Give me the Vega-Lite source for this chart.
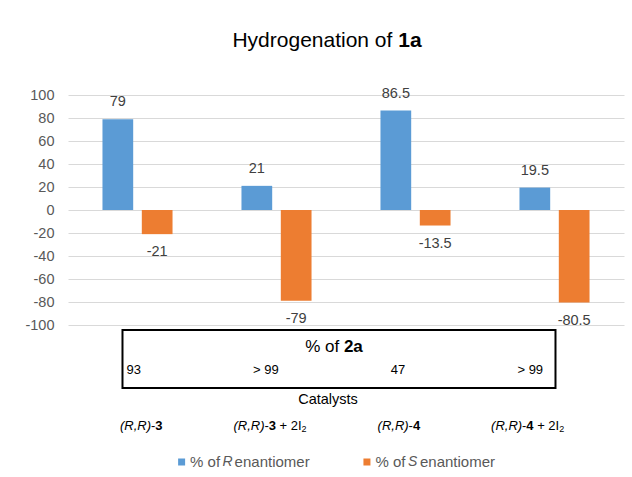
{
  "$schema": "https://vega.github.io/schema/vega-lite/v6.json",
  "padding": {"left": 24, "top": 6, "right": 9, "bottom": 0},
  "background": "white",
  "config": {"view": {"stroke": null}, "font": "Liberation Sans"},
  "spacing": 5,
  "center": true,
  "bounds": "flush",
  "resolve": {"scale": {"x": "independent", "y": "independent"}},
  "datasets": {
    "title": [{"lead": "Hydrogenation of", "compound": "1a"}],
    "bars": [
      {"catalyst": "(R,R)-3", "series": "R", "value": 79},
      {"catalyst": "(R,R)-3", "series": "S", "value": -21},
      {"catalyst": "(R,R)-3 + 2I2", "series": "R", "value": 21},
      {"catalyst": "(R,R)-3 + 2I2", "series": "S", "value": -79},
      {"catalyst": "(R,R)-4", "series": "R", "value": 86.5},
      {"catalyst": "(R,R)-4", "series": "S", "value": -13.5},
      {"catalyst": "(R,R)-4 + 2I2", "series": "R", "value": 19.5},
      {"catalyst": "(R,R)-4 + 2I2", "series": "S", "value": -80.5}
    ],
    "catalysts": [
      {"catalyst": "(R,R)-3", "cfg": "(R,R)", "dash": "-", "num": "3", "plus": "", "sub": "", "yield": "93"},
      {"catalyst": "(R,R)-3 + 2I2", "cfg": "(R,R)", "dash": "-", "num": "3", "plus": "+ 2I", "sub": "2", "yield": "> 99"},
      {"catalyst": "(R,R)-4", "cfg": "(R,R)", "dash": "-", "num": "4", "plus": "", "sub": "", "yield": "47"},
      {"catalyst": "(R,R)-4 + 2I2", "cfg": "(R,R)", "dash": "-", "num": "4", "plus": "+ 2I", "sub": "2", "yield": "> 99"}
    ],
    "box": [{"lead": "% of", "compound": "2a"}],
    "xtitle": [{"label": "Catalysts"}],
    "legend": [
      {"series": "R", "lead": "% of", "letter": "R", "rest": "enantiomer"},
      {"series": "S", "lead": "% of", "letter": "S", "rest": "enantiomer"}
    ]
  },
  "vconcat": [
    {
      "width": 556, "height": 84,
      "data": {"name": "title"},
      "layer": [
        {"mark": {"type": "text", "align": "right", "baseline": "middle", "dx": 46.4, "dy": -7, "fontSize": 21, "color": "#000000"},
         "encoding": {"text": {"field": "lead", "type": "nominal"}}},
        {"mark": {"type": "text", "align": "left", "baseline": "middle", "dx": 52.2, "dy": -7, "fontSize": 21, "fontWeight": "bold", "color": "#000000"},
         "encoding": {"text": {"field": "compound", "type": "nominal"}}}
      ]
    },
    {
      "width": 556, "height": 230,
      "data": {"name": "bars"},
      "encoding": {
        "x": {"field": "catalyst", "type": "nominal", "sort": null, "scale": {"paddingInner": 0.496, "paddingOuter": 0.248}, "axis": null},
        "xOffset": {"field": "series", "type": "nominal", "sort": null, "scale": {"paddingInner": 0.219, "paddingOuter": 0}},
        "y": {"field": "value", "type": "quantitative", "scale": {"domain": [-100, 100], "nice": false},
              "axis": {"values": [-100, -80, -60, -40, -20, 0, 20, 40, 60, 80, 100], "title": null, "domain": false, "ticks": false,
                       "labelPadding": 14, "labelFontSize": 14.5, "labelColor": "#595959", "labelExpr": "'' + datum.value",
                       "grid": true, "gridColor": "#d9d9d9", "gridWidth": 1}}
      },
      "layer": [
        {"mark": {"type": "bar"},
         "encoding": {"color": {"field": "series", "type": "nominal", "scale": {"domain": ["R", "S"], "range": ["#5b9bd5", "#ed7d31"]}, "legend": null}}},
        {"transform": [{"filter": "datum.series == 'R'"}],
         "mark": {"type": "text", "baseline": "middle", "dy": -17, "fontSize": 14.5, "color": "#404040"},
         "encoding": {"text": {"field": "value", "type": "nominal"}}},
        {"transform": [{"filter": "datum.series == 'S'"}],
         "mark": {"type": "text", "baseline": "middle", "dy": 18, "fontSize": 14.5, "color": "#404040"},
         "encoding": {"text": {"field": "value", "type": "nominal"}}}
      ]
    },
    {
      "width": 556, "height": 58,
      "resolve": {"scale": {"x": "independent"}},
      "layer": [
        {"data": {"name": "box"},
         "mark": {"type": "rect", "fill": null, "stroke": "#000000", "strokeWidth": 2},
         "encoding": {
           "x": {"datum": "(R,R)-3", "type": "nominal", "scale": {"type": "point", "domain": ["(R,R)-3", "(R,R)-3 + 2I2", "(R,R)-4", "(R,R)-4 + 2I2"], "padding": 0.4261, "align": 0.443}, "axis": null},
           "x2": {"datum": "(R,R)-4 + 2I2"}}},
        {"data": {"name": "catalysts"},
         "mark": {"type": "text", "align": "center", "baseline": "middle", "fontSize": 13, "dy": 11, "color": "#000000"},
         "encoding": {
           "x": {"field": "catalyst", "type": "nominal", "sort": null, "scale": {"type": "point", "padding": 0.603, "align": 0.412}, "axis": null},
           "text": {"field": "yield", "type": "nominal"}}},
        {"data": {"name": "box"},
         "mark": {"type": "text", "align": "right", "baseline": "middle", "fontSize": 17, "dx": -6.8, "dy": -12, "color": "#000000"},
         "encoding": {"text": {"field": "lead", "type": "nominal"}}},
        {"data": {"name": "box"},
         "mark": {"type": "text", "align": "left", "baseline": "middle", "fontSize": 17, "fontWeight": "bold", "dx": -2.1, "dy": -12, "color": "#000000"},
         "encoding": {"text": {"field": "compound", "type": "nominal"}}}
      ]
    },
    {
      "width": 556, "height": 49,
      "layer": [
        {"data": {"name": "xtitle"},
         "mark": {"type": "text", "baseline": "middle", "fontSize": 14.5, "dx": -18, "dy": -18, "color": "#000000"},
         "encoding": {"text": {"field": "label", "type": "nominal"}}},
        {"data": {"name": "catalysts"},
         "transform": [{"filter": "datum.plus == ''"}],
         "encoding": {"x": {"field": "catalyst", "type": "nominal", "scale": {"type": "point", "domain": ["(R,R)-3", "(R,R)-3 + 2I2", "(R,R)-4", "(R,R)-4 + 2I2"], "padding": 0.6584, "align": 0.432}, "axis": null}},
         "layer": [
           {"mark": {"type": "text", "align": "left", "baseline": "middle", "fontSize": 13, "fontStyle": "italic", "dx": -21.25, "dy": 8, "color": "#000000"},
            "encoding": {"text": {"field": "cfg", "type": "nominal"}}},
           {"mark": {"type": "text", "align": "left", "baseline": "middle", "fontSize": 13, "dx": 9.75, "dy": 8, "color": "#000000"},
            "encoding": {"text": {"field": "dash", "type": "nominal"}}},
           {"mark": {"type": "text", "align": "left", "baseline": "middle", "fontSize": 13, "fontWeight": "bold", "dx": 14.05, "dy": 8, "color": "#000000"},
            "encoding": {"text": {"field": "num", "type": "nominal"}}}
         ]},
        {"data": {"name": "catalysts"},
         "transform": [{"filter": "datum.plus != ''"}],
         "encoding": {"x": {"field": "catalyst", "type": "nominal", "scale": {"type": "point", "domain": ["(R,R)-3", "(R,R)-3 + 2I2", "(R,R)-4", "(R,R)-4 + 2I2"], "padding": 0.6584, "align": 0.432}, "axis": null}},
         "layer": [
           {"mark": {"type": "text", "align": "left", "baseline": "middle", "fontSize": 13, "fontStyle": "italic", "dx": -36.6, "dy": 8, "color": "#000000"},
            "encoding": {"text": {"field": "cfg", "type": "nominal"}}},
           {"mark": {"type": "text", "align": "left", "baseline": "middle", "fontSize": 13, "dx": -5.6, "dy": 8, "color": "#000000"},
            "encoding": {"text": {"field": "dash", "type": "nominal"}}},
           {"mark": {"type": "text", "align": "left", "baseline": "middle", "fontSize": 13, "fontWeight": "bold", "dx": -1.3, "dy": 8, "color": "#000000"},
            "encoding": {"text": {"field": "num", "type": "nominal"}}},
           {"mark": {"type": "text", "align": "left", "baseline": "middle", "fontSize": 13, "dx": 9.5, "dy": 8, "color": "#000000"},
            "encoding": {"text": {"field": "plus", "type": "nominal"}}},
           {"mark": {"type": "text", "align": "left", "baseline": "middle", "fontSize": 9, "dx": 31.5, "dy": 11.5, "color": "#000000"},
            "encoding": {"text": {"field": "sub", "type": "nominal"}}}
         ]}
      ]
    },
    {
      "width": 556, "height": 30,
      "data": {"name": "legend"},
      "encoding": {"x": {"field": "series", "type": "nominal", "sort": null, "scale": {"type": "point", "padding": 1.126, "align": 0.3065}, "axis": null}},
      "layer": [
        {"mark": {"type": "point", "shape": "square", "filled": true, "size": 49, "opacity": 1},
         "encoding": {"color": {"field": "series", "type": "nominal", "scale": {"domain": ["R", "S"], "range": ["#5b9bd5", "#ed7d31"]}, "legend": null}}},
        {"mark": {"type": "text", "align": "left", "baseline": "middle", "dx": 8.5, "fontSize": 15, "color": "#595959"},
         "encoding": {"text": {"field": "lead", "type": "nominal"}}},
        {"mark": {"type": "text", "align": "left", "baseline": "middle", "dx": 41, "fontSize": 14, "fontStyle": "italic", "color": "#595959"},
         "encoding": {"text": {"field": "letter", "type": "nominal"}}},
        {"mark": {"type": "text", "align": "left", "baseline": "middle", "dx": 53, "fontSize": 15, "color": "#595959"},
         "encoding": {"text": {"field": "rest", "type": "nominal"}}}
      ]
    }
  ]
}
